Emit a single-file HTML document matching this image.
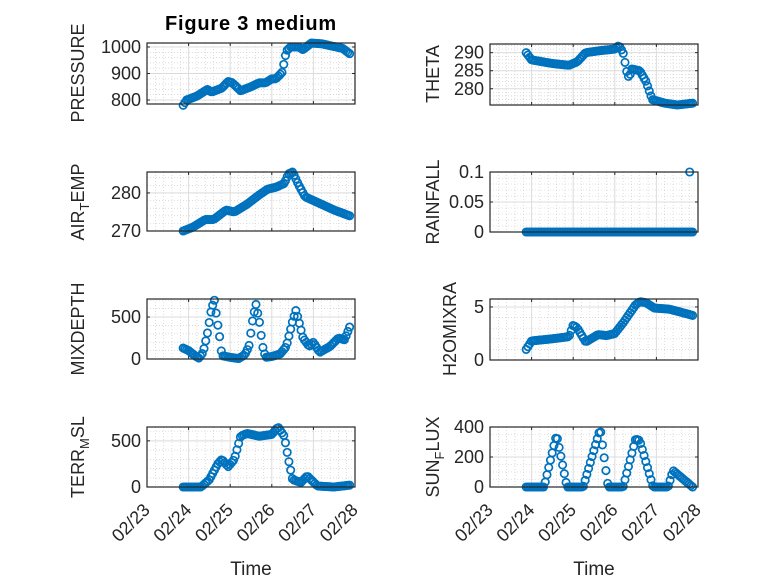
<!DOCTYPE html>
<html><head><meta charset="utf-8"><style>
body{margin:0;background:#fff}
svg{display:block;font-family:"Liberation Sans",sans-serif}
</style></head><body>
<svg id="s" width="778" height="583" xmlns="http://www.w3.org/2000/svg">
<rect width="778" height="583" fill="#fff"/>
<text x="251" y="30" font-size="20" font-weight="bold" text-anchor="middle" fill="#000" letter-spacing="0.8">Figure 3 medium</text>
<text x="251" y="575" font-size="19" text-anchor="middle" fill="#262626">Time</text>
<text x="594" y="575" font-size="19" text-anchor="middle" fill="#262626">Time</text>
<text transform="translate(84,73) rotate(-90)" font-size="18" text-anchor="middle" fill="#262626">PRESSURE</text>
<text transform="translate(84,202) rotate(-90)" font-size="18" text-anchor="middle" fill="#262626">AIR<tspan font-size="13" dy="5">T</tspan><tspan dy="-5">EMP</tspan></text>
<text transform="translate(84,329) rotate(-90)" font-size="18" text-anchor="middle" fill="#262626">MIXDEPTH</text>
<text transform="translate(84,457) rotate(-90)" font-size="18" text-anchor="middle" fill="#262626">TERR<tspan font-size="13" dy="5">M</tspan><tspan dy="-5">SL</tspan></text>
<text transform="translate(439,74) rotate(-90)" font-size="18" text-anchor="middle" fill="#262626">THETA</text>
<text transform="translate(439,202) rotate(-90)" font-size="18" text-anchor="middle" fill="#262626">RAINFALL</text>
<text transform="translate(456,329) rotate(-90)" font-size="18" text-anchor="middle" fill="#262626">H2OMIXRA</text>
<text transform="translate(439,457) rotate(-90)" font-size="18" text-anchor="middle" fill="#262626">SUN<tspan font-size="13" dy="5">F</tspan><tspan dy="-5">LUX</tspan></text>
</svg>
<script>
var S=document.getElementById('s'),NS="http://www.w3.org/2000/svg";
function el(t,a,p){var e=document.createElementNS(NS,t);for(var k in a)e.setAttribute(k,a[k]);(p||S).appendChild(e);return e;}
function interp(k,t){if(t<=k[0][0])return k[0][1];for(var i=1;i<k.length;i++){if(t<=k[i][0]){var a=k[i-1],b=k[i];return a[1]+(b[1]-a[1])*(t-a[0])/(b[0]-a[0]);}}return k[k.length-1][1];}
var axes=[
{x:147,y:43,h:61,min:785,max:1015,ticks:[800,900,1000],lab:["800","900","1000"],minor:20,xl:false,
k:[[0.87,780],[0.95,800],[1.2,815],[1.45,840],[1.55,830],[1.8,845],[1.95,870],[2.05,865],[2.25,835],[2.5,850],[2.7,865],[2.85,865],[3.0,880],[3.1,880],[3.25,905],[3.35,985],[3.45,1000],[3.65,1000],[3.75,990],[3.95,1015],[4.2,1012],[4.4,1005],[4.7,995],[4.87,975]]},
{x:147,y:172,h:59,min:270,max:285.5,ticks:[270,280],lab:["270","280"],minor:2,xl:false,
k:[[0.87,270],[1.1,271],[1.4,273],[1.6,273],[1.9,275.5],[2.1,275],[2.4,277],[2.7,279.5],[2.9,281],[3.1,281.5],[3.3,282.5],[3.4,285],[3.5,285.5],[3.65,282],[3.8,279],[4.2,277],[4.5,275.5],[4.87,274]]},
{x:147,y:299,h:60,min:0,max:715,ticks:[0,500],lab:["0","500"],minor:100,xl:false,
k:[[0.87,130],[1.0,100],[1.15,40],[1.25,10],[1.35,80],[1.45,300],[1.55,600],[1.62,700],[1.68,480],[1.75,250],[1.8,40],[2.0,20],[2.2,5],[2.35,50],[2.45,150],[2.55,500],[2.62,650],[2.7,450],[2.78,150],[2.85,20],[3.0,30],[3.2,60],[3.35,150],[3.5,450],[3.58,580],[3.65,450],[3.75,250],[3.9,150],[4.0,200],[4.15,80],[4.4,150],[4.6,250],[4.75,230],[4.87,380]]},
{x:147,y:427,h:60,min:0,max:650,ticks:[0,500],lab:["0","500"],minor:100,xl:true,
k:[[0.87,0],[1.3,0],[1.5,80],[1.7,250],[1.8,300],[1.95,220],[2.1,300],[2.25,550],[2.4,580],[2.7,550],[3.0,570],[3.15,650],[3.3,550],[3.4,300],[3.5,80],[3.7,50],[3.85,120],[4.1,10],[4.5,0],[4.87,20]]},
{x:490,y:44,h:61,min:275.5,max:292.4,ticks:[280,285,290],lab:["280","285","290"],minor:1,xl:false,
k:[[0.87,290],[1.0,288],[1.5,287],[1.9,286.5],[2.1,287.5],[2.3,290],[2.6,290.5],[3.0,291],[3.1,292],[3.2,290],[3.3,284],[3.35,283],[3.4,285.5],[3.6,285],[3.75,282],[3.9,277],[4.2,276],[4.5,275.5],[4.87,276]]},
{x:490,y:172,h:60,min:0,max:0.1,ticks:[0,0.05,0.1],lab:["0","0.05","0.1"],minor:0.01,xl:false,k:[[0.87,0],[4.87,0]],extra:[[4.8,0.1]]},
{x:490,y:299,h:61,min:0,max:5.75,ticks:[0,5],lab:["0","5"],minor:1,xl:false,
k:[[0.87,1],[1.0,1.8],[1.5,2.0],[1.9,2.2],[2.0,3.3],[2.1,3.0],[2.3,1.7],[2.6,2.4],[2.8,2.3],[3.0,2.5],[3.2,3.5],[3.5,5.2],[3.6,5.5],[3.75,5.4],[3.95,4.9],[4.3,4.8],[4.6,4.5],[4.87,4.2]]},
{x:490,y:427,h:60,min:0,max:400,ticks:[0,200,400],lab:["0","200","400"],minor:50,xl:true,
k:[[0.87,0],[1.3,0],[1.6,350],[1.85,0],[2.24,0],[2.65,390],[2.84,0],[3.2,0],[3.5,320],[3.6,310],[3.92,0],[4.28,0],[4.4,110],[4.87,0]]}
];
var W=208,DX=41.6;
axes.forEach(function(a){
  var sy=function(v){return a.y+a.h-(v-a.min)/(a.max-a.min)*a.h;};
  var g=el('g',{});
  for(var d=0;d<5;d++)for(var m=1;m<5;m++){var xx=a.x+d*DX+m*DX/5;el('line',{x1:xx,x2:xx,y1:a.y,y2:a.y+a.h,stroke:'#c8c8c8','stroke-width':0.6,'stroke-dasharray':'1,2'},g);}
  var st=Math.ceil(a.min/a.minor-1e-9)*a.minor;
  for(var v=st;v<=a.max+1e-9;v+=a.minor){var yy=sy(v);el('line',{x1:a.x,x2:a.x+W,y1:yy,y2:yy,stroke:'#c8c8c8','stroke-width':0.6,'stroke-dasharray':'1,2'},g);}
  for(var d=1;d<5;d++){var xx=a.x+d*DX;el('line',{x1:xx,x2:xx,y1:a.y,y2:a.y+a.h,stroke:'#dcdcdc','stroke-width':1},g);}
  a.ticks.forEach(function(v,i){var yy=sy(v);el('line',{x1:a.x,x2:a.x+W,y1:yy,y2:yy,stroke:'#dcdcdc','stroke-width':1},g);
    el('line',{x1:a.x,x2:a.x+3,y1:yy,y2:yy,stroke:'#262626'},g);el('line',{x1:a.x+W,x2:a.x+W-3,y1:yy,y2:yy,stroke:'#262626'},g);
    var t=el('text',{x:a.x-6,y:yy+6,'font-size':18,'text-anchor':'end',fill:'#262626'},g);t.textContent=a.lab[i];});
  for(var d=0;d<=5;d++){var xx=a.x+d*DX;el('line',{x1:xx,x2:xx,y1:a.y+a.h,y2:a.y+a.h-3,stroke:'#262626'},g);el('line',{x1:xx,x2:xx,y1:a.y,y2:a.y+3,stroke:'#262626'},g);
    if(a.xl){var px=xx+4,py=a.y+a.h+24;var t=el('text',{x:px,y:py,'font-size':18,'text-anchor':'end',fill:'#262626',transform:'rotate(-45 '+px+' '+py+')'},g);t.textContent='02/2'+(3+d);}}
  var pts=[];for(var i=0;i<=96;i++){var t=0.87+i/24;pts.push([t,interp(a.k,t)]);}
  if(a.extra)pts=pts.concat(a.extra);
  pts.forEach(function(p){el('circle',{cx:a.x+p[0]*DX,cy:sy(p[1]),r:3.7,fill:'none',stroke:'#0072BD','stroke-width':1.7},g);});
  el('rect',{x:a.x,y:a.y,width:W,height:a.h,fill:'none',stroke:'#262626','stroke-width':1.2},g);
});
</script>
</body></html>
